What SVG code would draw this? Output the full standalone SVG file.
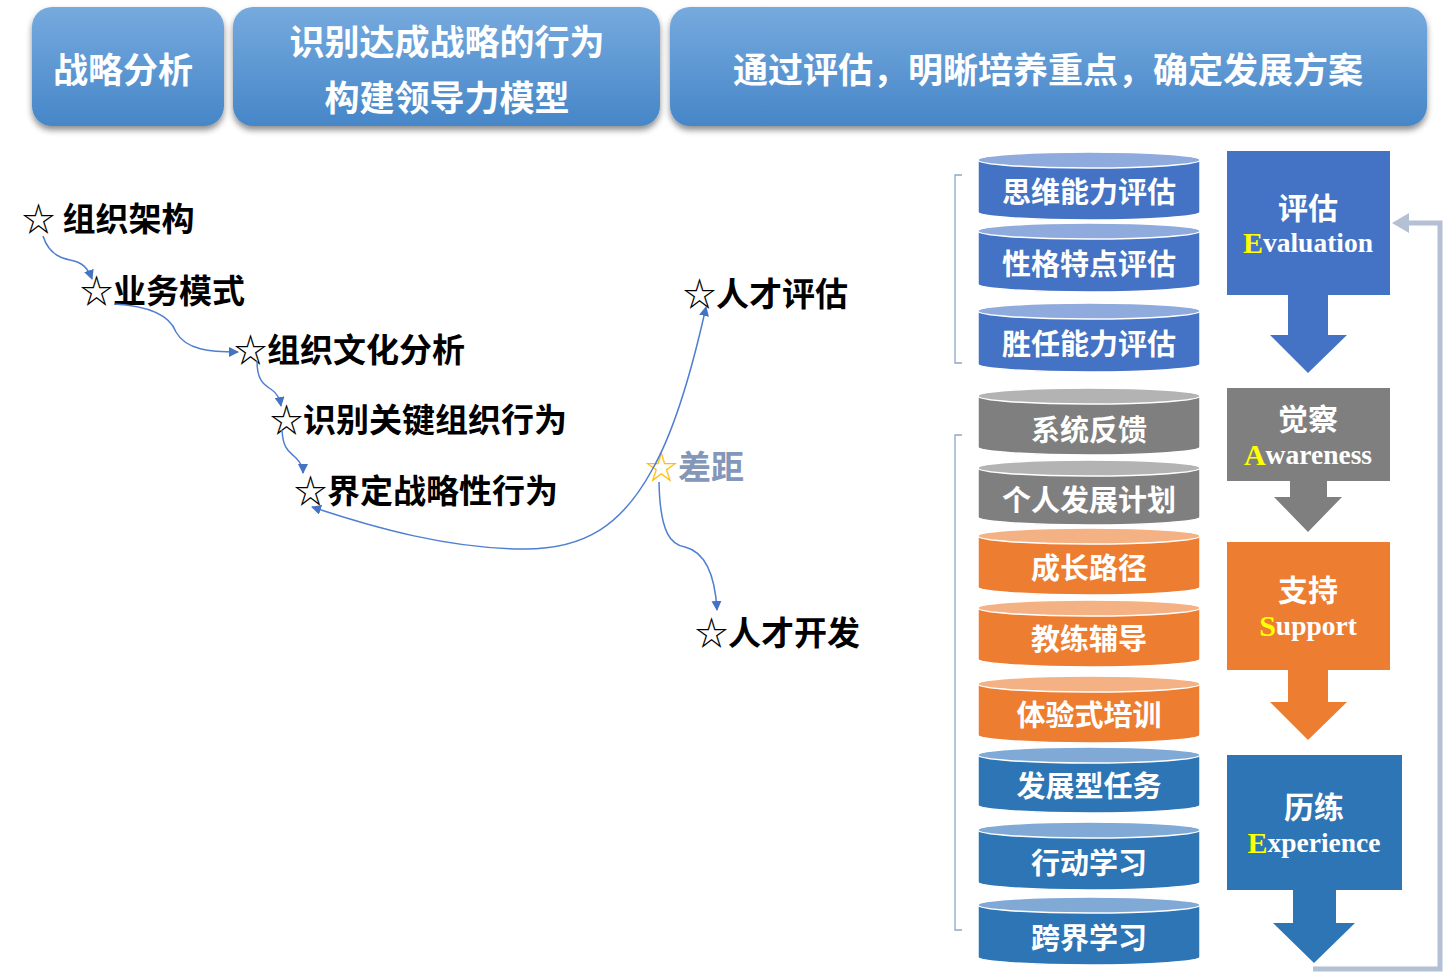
<svg xmlns="http://www.w3.org/2000/svg" width="1444" height="975" viewBox="0 0 1444 975">
<style>
.hd{fill:url(#hg);filter:url(#sh)}
.ht{font-family:"Noto Sans CJK SC","Noto Sans",sans-serif;font-weight:700;font-size:35px;fill:#fff;text-anchor:middle;dominant-baseline:central}
.lt{font-family:"Noto Sans CJK SC","Noto Sans",sans-serif;font-weight:700;font-size:33px;fill:#000;dominant-baseline:central}
.st{font-weight:400}
.con{fill:none;stroke:#4f7fd0;stroke-width:1.5;marker-end:url(#ar)}
.ct{font-family:"Noto Sans CJK SC","Noto Sans",sans-serif;font-weight:700;font-size:29px;fill:#fff;text-anchor:middle;dominant-baseline:central}
.cy{stroke:#fff;stroke-width:1.5}
.b1{fill:#4472c4}.b1t{fill:#8faadc}
.g1{fill:#7f7f7f}.g1t{fill:#b3b3b3}
.o1{fill:#ed7d31}.o1t{fill:#f4b183}
.d1{fill:#2e75b6}.d1t{fill:#80a9d6}
.at{font-family:"Noto Sans CJK SC","Noto Sans",sans-serif;font-weight:700;font-size:30px;fill:#fff;text-anchor:middle;dominant-baseline:central}
.en{font-family:"Liberation Serif","Times New Roman",serif;font-weight:700;font-size:27.5px;fill:#fff;text-anchor:middle;dominant-baseline:central}
.y{fill:#ffff00;font-size:30px}
.br{fill:none;stroke:#8fa6c8;stroke-width:1.3}
</style>
<defs>
<linearGradient id="hg" x1="0" y1="0" x2="0" y2="1">
<stop offset="0" stop-color="#76aade"/>
<stop offset="1" stop-color="#4686c8"/>
</linearGradient>
<filter id="sh" x="-10%" y="-20%" width="120%" height="150%">
<feDropShadow dx="0" dy="4" stdDeviation="3" flood-color="#000" flood-opacity="0.45"/>
</filter>
<marker id="ar" viewBox="0 0 10 10" refX="9" refY="5" markerWidth="10" markerHeight="10" orient="auto" markerUnits="userSpaceOnUse">
<path d="M0,0 L10,5 L0,10 Z" fill="#4472c4"/>
</marker>
</defs>
<rect width="1444" height="975" fill="#fff"/>

<g id="h1"><rect class="hd" x="32" y="7" width="192" height="119" rx="20"/><text class="ht" x="123" y="67">战略分析</text></g>
<g id="h2"><rect class="hd" x="233" y="7" width="427" height="119" rx="20"/><text class="ht" x="447" y="39">识别达成战略的行为</text><text class="ht" x="447" y="95">构建领导力模型</text></g>
<g id="h3"><rect class="hd" x="670" y="7" width="757" height="119" rx="20"/><text class="ht" x="1048" y="67">通过评估，明晰培养重点，确定发展方案</text></g>

<g id="n1"><text class="lt" x="22" y="217"><tspan class="st">☆</tspan> 组织架构</text></g>
<g id="n2"><text class="lt" x="80" y="289"><tspan class="st">☆</tspan>业务模式</text></g>
<g id="n3"><text class="lt" x="234" y="348"><tspan class="st">☆</tspan>组织文化分析</text></g>
<g id="n4"><text class="lt" x="270" y="418"><tspan class="st">☆</tspan>识别关键组织行为</text></g>
<g id="n5"><text class="lt" x="294" y="489"><tspan class="st">☆</tspan>界定战略性行为</text></g>
<g id="n6"><text class="lt" x="683" y="292"><tspan class="st">☆</tspan>人才评估</text></g>
<g id="n7"><text class="lt" x="645" y="465"><tspan class="st" fill="#ffc000">☆</tspan><tspan fill="#8497b8">差距</tspan></text></g>
<g id="n8"><text class="lt" x="695" y="631"><tspan class="st">☆</tspan>人才开发</text></g>

<g id="connectors">
<path class="con" d="M43,236 C48,252 58,258 70,260 C82,262 88,268 92,279"/>
<path class="con" d="M114,304 C150,306 170,316 176,332 C186,350 210,352 238,352"/>
<path class="con" d="M257,361 C257,382 265,385 272,390 C278,394 280,400 281,406"/>
<path class="con" d="M282,430 C283,450 290,452 296,458 C301,463 303,468 303,473"/>
<path class="con" d="M652,470 C675,430 692,370 706,307"/>
<path class="con" d="M652,470 C622,525 585,549 525,549 C450,549 375,528 312,507"/>
<path class="con" d="M659,482 C660,535 672,545 685,547 C705,552 715,575 717,610"/>
</g>

<g id="brackets">
<path class="br" d="M962,175 H955 V363 H962"/>
<path class="br" d="M962,435 H955 V930 H962"/>
</g>

<g id="c1"><path class="cy b1" d="M978,160 V212 A111,8 0 0 0 1200,212 V160 Z"/><ellipse class="cy b1t" cx="1089" cy="160" rx="111" ry="8"/><text class="ct" x="1089" y="190">思维能力评估</text></g>
<g id="c2"><path class="cy b1" d="M978,231 V284 A111,8 0 0 0 1200,284 V231 Z"/><ellipse class="cy b1t" cx="1089" cy="231" rx="111" ry="8"/><text class="ct" x="1089" y="262">性格特点评估</text></g>
<g id="c3"><path class="cy b1" d="M978,311 V364 A111,8 0 0 0 1200,364 V311 Z"/><ellipse class="cy b1t" cx="1089" cy="311" rx="111" ry="8"/><text class="ct" x="1089" y="342">胜任能力评估</text></g>
<g id="c4"><path class="cy g1" d="M978,396 V447 A111,8 0 0 0 1200,447 V396 Z"/><ellipse class="cy g1t" cx="1089" cy="396" rx="111" ry="8"/><text class="ct" x="1089" y="428">系统反馈</text></g>
<g id="c5"><path class="cy g1" d="M978,468 V517 A111,8 0 0 0 1200,517 V468 Z"/><ellipse class="cy g1t" cx="1089" cy="468" rx="111" ry="8"/><text class="ct" x="1089" y="498">个人发展计划</text></g>
<g id="c6"><path class="cy o1" d="M978,536 V587 A111,8 0 0 0 1200,587 V536 Z"/><ellipse class="cy o1t" cx="1089" cy="536" rx="111" ry="8"/><text class="ct" x="1089" y="566">成长路径</text></g>
<g id="c7"><path class="cy o1" d="M978,608 V659 A111,8 0 0 0 1200,659 V608 Z"/><ellipse class="cy o1t" cx="1089" cy="608" rx="111" ry="8"/><text class="ct" x="1089" y="637">教练辅导</text></g>
<g id="c8"><path class="cy o1" d="M978,684 V735 A111,8 0 0 0 1200,735 V684 Z"/><ellipse class="cy o1t" cx="1089" cy="684" rx="111" ry="8"/><text class="ct" x="1089" y="713">体验式培训</text></g>
<g id="c9"><path class="cy d1" d="M978,755 V805 A111,8 0 0 0 1200,805 V755 Z"/><ellipse class="cy d1t" cx="1089" cy="755" rx="111" ry="8"/><text class="ct" x="1089" y="784">发展型任务</text></g>
<g id="c10"><path class="cy d1" d="M978,830 V882 A111,8 0 0 0 1200,882 V830 Z"/><ellipse class="cy d1t" cx="1089" cy="830" rx="111" ry="8"/><text class="ct" x="1089" y="861">行动学习</text></g>
<g id="c11"><path class="cy d1" d="M978,905 V957 A111,8 0 0 0 1200,957 V905 Z"/><ellipse class="cy d1t" cx="1089" cy="905" rx="111" ry="8"/><text class="ct" x="1089" y="936">跨界学习</text></g>

<g id="feedback">
<polyline points="1313,969 1440,969 1440,223 1405,223" fill="none" stroke="#b4c0d3" stroke-width="5"/>
<polygon points="1392,223 1409,213 1409,233" fill="#b4c0d3"/>
</g>

<g id="a1"><polygon fill="#4472c4" points="1227,151 1390,151 1390,295 1328,295 1328,335 1347,335 1308,373 1270,335 1288,335 1288,295 1227,295"/><text class="at" x="1308" y="206">评估</text><text class="en" x="1308" y="242"><tspan class="y">E</tspan>valuation</text></g>
<g id="a2"><polygon fill="#7f7f7f" points="1227,388 1390,388 1390,481 1327,481 1327,497 1342,497 1308,532 1274,497 1290,497 1290,481 1227,481"/><text class="at" x="1308" y="417">觉察</text><text class="en" x="1308" y="454"><tspan class="y">A</tspan>wareness</text></g>
<g id="a3"><polygon fill="#ed7d31" points="1227,542 1390,542 1390,670 1328,670 1328,702 1347,702 1308,740 1270,702 1288,702 1288,670 1227,670"/><text class="at" x="1308" y="588">支持</text><text class="en" x="1308" y="625"><tspan class="y">S</tspan>upport</text></g>
<g id="a4"><polygon fill="#2e75b6" points="1227,755 1402,755 1402,890 1336,890 1336,923 1355,923 1314,963 1273,923 1293,923 1293,890 1227,890"/><text class="at" x="1314" y="805">历练</text><text class="en" x="1314" y="842"><tspan class="y">E</tspan>xperience</text></g>
</svg>
